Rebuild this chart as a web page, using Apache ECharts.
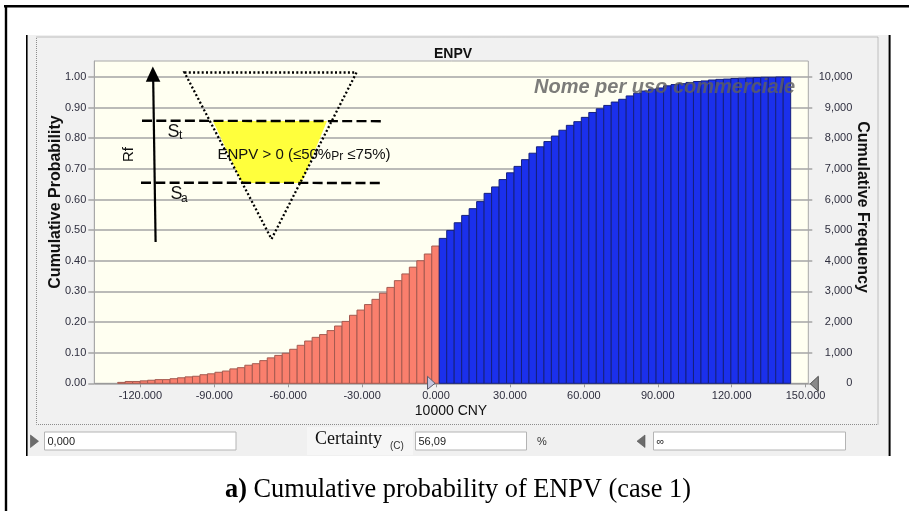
<!DOCTYPE html>
<html>
<head>
<meta charset="utf-8">
<script src="https://cdn.jsdelivr.net/npm/echarts@6/dist/echarts.min.js"></script>
<style>
  html, body { margin: 0; padding: 0; background: #ffffff; }
  #chart { width: 909px; height: 511px; }
</style>
</head>
<body>
<div id="chart"></div>
<script>
// Forecast histogram of ENPV (10000 CNY): equal-width bins
const binStart = -129.2;
const binWidth = 3.035;

// Cumulative probability reached at the end of each bin, left to right
const cumulativeProbability = [
  0.003, 0.006, 0.006, 0.008, 0.010, 0.012, 0.012, 0.015, 0.018, 0.021,
  0.023, 0.028, 0.031, 0.036, 0.040, 0.047, 0.051, 0.059, 0.064, 0.074,
  0.083, 0.091, 0.098, 0.111, 0.124, 0.138, 0.150, 0.159, 0.172, 0.187,
  0.202, 0.222, 0.239, 0.257, 0.274, 0.294, 0.313, 0.335, 0.357, 0.379,
  0.400, 0.422, 0.448,
  0.473, 0.499, 0.524, 0.548, 0.570, 0.593, 0.620, 0.641, 0.665, 0.687,
  0.708, 0.730, 0.751, 0.772, 0.789, 0.807, 0.826, 0.842, 0.854, 0.868,
  0.884, 0.896, 0.907, 0.918, 0.927, 0.938, 0.947, 0.954, 0.960, 0.964,
  0.971, 0.975, 0.978, 0.982, 0.985, 0.987, 0.990, 0.992, 0.993, 0.995,
  0.996, 0.997, 0.998, 0.999, 0.999, 1.000, 1.000
];

// Certainty range: from 0 to +infinity
const certaintyLow = 0;
const certaintyText = '56,09';
const trials = 10000;

// Axis ticks
const xTicks = [-120, -90, -60, -30, 0, 30, 60, 90, 120, 150];
const probTicks = [0, 0.1, 0.2, 0.3, 0.4, 0.5, 0.6, 0.7, 0.8, 0.9, 1.0];
const freqTicks = [0, 1000, 2000, 3000, 4000, 5000, 6000, 7000, 8000, 9000, 10000];

// Axis extents
const xMin = -138.7, xMax = 151.1;
const probMax = 1.052;

const bins = cumulativeProbability.map((p, i) => [binStart + i * binWidth, binStart + (i + 1) * binWidth, p]);

const SANS = '"Liberation Sans", Arial, sans-serif';
const SERIF = '"Liberation Serif", "Times New Roman", serif';
const labelColor = '#2e2e3e';
const gridColor = '#a4a4a4';

const chart = echarts.init(document.getElementById('chart'), null, { renderer: 'canvas' });

const overlay = [];
const back = [];

// Outer frame and window panel
back.push(
  { type: 'rect', z: -100, shape: { x: 27, y: 35, width: 862, height: 421 }, style: { fill: '#f0f0f0' } },
  { type: 'rect', z: -99, shape: { x: 36.5, y: 37, width: 841.5, height: 387.5 },
    style: { fill: '#f1f1f1', stroke: '#8c8c8c', lineWidth: 1, lineDash: [1, 1] } },
  { type: 'rect', z: -99, shape: { x: 307, y: 427, width: 106, height: 28 }, style: { fill: '#f6f6f6' } }
);
overlay.push(
  { type: 'line', z: 90, shape: { x1: 4, y1: 6.2, x2: 909, y2: 6.2 }, style: { stroke: '#000', lineWidth: 2.4 } },
  { type: 'line', z: 90, shape: { x1: 6, y1: 5, x2: 6, y2: 511 }, style: { stroke: '#000', lineWidth: 2.4 } },
  { type: 'line', z: 90, shape: { x1: 26.8, y1: 35, x2: 26.8, y2: 456 }, style: { stroke: '#000', lineWidth: 1.6 } },
  { type: 'line', z: 90, shape: { x1: 889.6, y1: 35, x2: 889.6, y2: 456 }, style: { stroke: '#000', lineWidth: 2 } }
);

// Chart title and axis names
overlay.push(
  { type: 'text', z: 90, style: { text: 'ENPV', x: 453, y: 54.5, textAlign: 'center', textVerticalAlign: 'middle',
      font: 'bold 14px ' + SANS, fill: '#111' } },
  { type: 'text', z: 90, x: 56, y: 202, rotation: Math.PI / 2,
    style: { text: 'Cumulative Probability', x: 0, y: 0, textAlign: 'center', textVerticalAlign: 'middle',
      font: 'bold 16px ' + SANS, fill: '#111' } },
  { type: 'text', z: 90, x: 862, y: 207, rotation: -Math.PI / 2,
    style: { text: 'Cumulative Frequency', x: 0, y: 0, textAlign: 'center', textVerticalAlign: 'middle',
      font: 'bold 16px ' + SANS, fill: '#111' } },
  { type: 'text', z: 90, style: { text: '10000 CNY', x: 451, y: 411, textAlign: 'center', textVerticalAlign: 'middle',
      font: '14px ' + SANS, fill: '#111' } }
);

// Watermark
overlay.push(
  { type: 'text', z: 95, style: { text: 'Nome per uso commerciale', x: 534, y: 87, textAlign: 'left', textVerticalAlign: 'middle',
      font: 'italic bold 20px ' + SANS, fill: 'rgba(95,95,95,0.82)' } }
);

// Risk-zone sketch: yellow band inside a dotted inverted triangle
overlay.push(
  { type: 'polygon', z: 100, shape: { points: [[213, 121], [327, 121], [301.5, 183], [242, 183]] },
    style: { fill: '#ffff3c' } },
  { type: 'polygon', z: 101, shape: { points: [[184.5, 72.5], [356.5, 72.5], [271.5, 239]] },
    style: { fill: 'none', stroke: '#000', lineWidth: 2.3, lineDash: [2, 2.3] } },
  { type: 'line', z: 101, shape: { x1: 142, y1: 120.7, x2: 385, y2: 121.2 },
    style: { stroke: '#000', lineWidth: 2.4, lineDash: [10, 4.3] } },
  { type: 'line', z: 101, shape: { x1: 141, y1: 182.7, x2: 383, y2: 183 },
    style: { stroke: '#000', lineWidth: 2.4, lineDash: [10, 4.3] } },
  // Rf arrow
  { type: 'line', z: 101, shape: { x1: 155.6, y1: 242, x2: 153.2, y2: 80 },
    style: { stroke: '#000', lineWidth: 2.2 } },
  { type: 'polygon', z: 101, shape: { points: [[152.8, 66.5], [145.8, 81.8], [160.4, 81.8]] },
    style: { fill: '#000' } },
  { type: 'text', z: 101, x: 128.5, y: 154.5, rotation: Math.PI / 2,
    style: { text: 'Rf', x: 0, y: 0, textAlign: 'center', textVerticalAlign: 'middle',
      font: '15px ' + SANS, fill: '#111' } },
  { type: 'text', z: 101, style: { text: 'S', x: 167.5, y: 131.8, textAlign: 'left', textVerticalAlign: 'middle',
      font: '18px ' + SANS, fill: '#111' } },
  { type: 'text', z: 101, style: { text: 't', x: 179, y: 135.2, textAlign: 'left', textVerticalAlign: 'middle',
      font: '12px ' + SANS, fill: '#111' } },
  { type: 'text', z: 101, style: { text: 'S', x: 170.5, y: 194.5, textAlign: 'left', textVerticalAlign: 'middle',
      font: '18px ' + SANS, fill: '#111' } },
  { type: 'text', z: 101, style: { text: 'a', x: 181, y: 198.8, textAlign: 'left', textVerticalAlign: 'middle',
      font: '12px ' + SANS, fill: '#111' } },
  { type: 'text', z: 101, style: {
      text: '{a|ENPV > 0 (≤50%}{p|Pr}{a| ≤75%)}', x: 217.5, y: 155, textAlign: 'left', textVerticalAlign: 'middle',
      fill: '#111',
      rich: {
        a: { font: '15px ' + SANS, fill: '#111', verticalAlign: 'bottom' },
        p: { font: '12px ' + SANS, fill: '#111', verticalAlign: 'bottom' }
      } } }
);

// Certainty controls under the chart
function inputBox(x, w, text) {
  return [
    { type: 'rect', z: 90, shape: { x: x + 0.5, y: 432, width: w, height: 18 },
      style: { fill: '#ffffff', stroke: '#b4b4b4', lineWidth: 1 } },
    { type: 'text', z: 91, style: { text: text, x: x + 3.5, y: 441.5, textAlign: 'left', textVerticalAlign: 'middle',
        font: '11px ' + SANS, fill: '#222' } }
  ];
}
overlay.push(
  { type: 'polygon', z: 90, shape: { points: [[30.5, 435], [30.5, 447.5], [38.5, 441.2]] },
    style: { fill: '#6c6c6c', stroke: '#555', lineWidth: 0.6 } },
  ...inputBox(44, 191.5, '0,000'),
  { type: 'text', z: 91, style: { text: 'Certainty', x: 315, y: 439.5, textAlign: 'left', textVerticalAlign: 'middle',
      font: '18px ' + SERIF, fill: '#111' } },
  { type: 'text', z: 91, style: { text: '(C)', x: 390, y: 446, textAlign: 'left', textVerticalAlign: 'middle',
      font: '10px ' + SANS, fill: '#333' } },
  ...inputBox(415, 111, certaintyText),
  { type: 'text', z: 91, style: { text: '%', x: 537, y: 441.5, textAlign: 'left', textVerticalAlign: 'middle',
      font: '11px ' + SANS, fill: '#333' } },
  { type: 'polygon', z: 90, shape: { points: [[645, 435], [645, 447.5], [637, 441.2]] },
    style: { fill: '#6c6c6c', stroke: '#555', lineWidth: 0.6 } },
  ...inputBox(653, 192, '∞')
);

// Figure caption
overlay.push(
  { type: 'text', z: 90, style: {
      text: '{b|a)} Cumulative probability of ENPV (case 1)', x: 458, y: 490, textAlign: 'center', textVerticalAlign: 'middle',
      font: '26.3px ' + SERIF, fill: '#000',
      rich: { b: { font: 'bold 26.3px ' + SERIF, fill: '#000' } } } }
);

const option = {
  backgroundColor: '#ffffff',
  animation: false,
  grid: {
    left: 94.3, right: 100.7, top: 61, bottom: 127.7,
    show: true, backgroundColor: '#fffff1', borderColor: '#a8a8a8', borderWidth: 1
  },
  xAxis: {
    type: 'value', min: xMin, max: xMax,
    axisLine: { show: true, onZero: false, lineStyle: { color: '#9a9a9a', width: 1 } },
    axisTick: { show: true, customValues: xTicks, length: 4, inside: false, lineStyle: { color: '#9a9a9a' } },
    axisLabel: { customValues: xTicks, margin: 7, color: labelColor, fontFamily: SANS, fontSize: 11,
      formatter: v => v.toFixed(3) },
    splitLine: { show: false }
  },
  yAxis: [
    {
      type: 'value', min: 0, max: probMax, position: 'left',
      axisLine: { show: true, onZero: false, lineStyle: { color: '#a8a8a8' } },
      axisTick: { show: true, customValues: probTicks, length: 6, lineStyle: { color: gridColor, width: 1.5 } },
      axisLabel: { customValues: probTicks, margin: 8, color: labelColor, fontFamily: SANS, fontSize: 11,
        formatter: v => v.toFixed(2) },
      splitLine: { show: true, lineStyle: { color: gridColor, width: 1.5 } }
    },
    {
      type: 'value', min: 0, max: probMax * trials, position: 'right',
      axisLine: { show: false, onZero: false },
      axisTick: { show: true, customValues: freqTicks, length: 4, lineStyle: { color: gridColor, width: 1.5 } },
      axisLabel: { customValues: freqTicks, margin: 44, align: 'right', color: labelColor, fontFamily: SANS, fontSize: 11,
        formatter: v => v.toLocaleString('en-US') },
      splitLine: { show: false }
    }
  ],
  series: [
    {
      type: 'custom',
      name: 'Cumulative Probability',
      xAxisIndex: 0, yAxisIndex: 0,
      data: bins,
      encode: { x: [0, 1], y: 2 },
      renderItem(params, api) {
        const start = api.value(0), end = api.value(1), p = api.value(2);
        const topLeft = api.coord([start, p]);
        const bottomRight = api.coord([end, 0]);
        const inRange = start >= certaintyLow;
        return {
          type: 'rect',
          shape: { x: topLeft[0], y: topLeft[1], width: bottomRight[0] - topLeft[0], height: bottomRight[1] - topLeft[1] },
          style: inRange
            ? { fill: '#1b30ec', stroke: '#15207e', lineWidth: 1 }
            : { fill: '#fa7f6d', stroke: '#a45a50', lineWidth: 1 }
        };
      }
    },
    {
      // Certainty range grabbers on the value axis
      type: 'custom',
      xAxisIndex: 0, yAxisIndex: 0,
      clip: false,
      z: 5,
      data: [[certaintyLow, 1], [xMax, -1]],
      renderItem(params, api) {
        const p = api.coord([api.value(0), 0]);
        const dir = api.value(1);
        if (dir > 0) {
          const tip = p[0] - 1;
          return { type: 'polygon', shape: { points: [[tip - 7.5, p[1] - 7], [tip - 7.5, p[1] + 6], [tip, p[1]]] },
            style: { fill: '#c6c6de', stroke: '#5a5a6a', lineWidth: 1 } };
        }
        const tip = p[0] + 2;
        return { type: 'polygon', shape: { points: [[tip + 8, p[1] - 7], [tip + 8, p[1] + 8], [tip, p[1] + 0.5]] },
          style: { fill: '#8a8a8a', stroke: '#4e4e4e', lineWidth: 1 } };
      }
    }
  ],
  graphic: { elements: back.concat(overlay) }
};

chart.setOption(option);
</script>
</body>
</html>
